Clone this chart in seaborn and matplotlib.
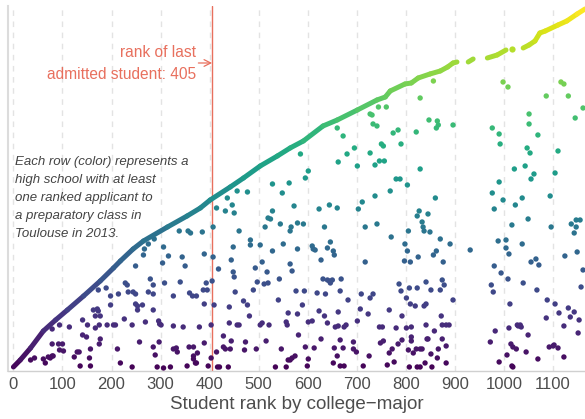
import numpy as np
import matplotlib
matplotlib.use("Agg")
import matplotlib.pyplot as plt
import seaborn as sns
from matplotlib.collections import LineCollection
from matplotlib.colors import Normalize

# upper edge: rank at which each new high school first shows up (row = school order)
frontier_rank = [
    [0, 14, 35, 61, 86, 110, 143, 177, 204, 218, 244, 265, 314, 354, 381, 401, 442,
     469, 503, 538, 564, 591, 631, 660, 701, 741, 758, 768, 798, 811, 825, 849, 870,
     885, 896, 904],
    [927, 937],
    [966, 986, 1004],
    [1016],
    [1039, 1051, 1063, 1073, 1084, 1110, 1128, 1149, 1165],
]
frontier_row = [
    [4, 11, 23, 40, 51, 61, 75, 90, 103, 110, 122, 130, 144, 155, 163, 171, 184,
     193, 205, 215, 223, 230, 245, 251, 261, 271, 274, 280, 287, 288, 293, 297, 300,
     304, 308, 309],
    [309, 312],
    [313, 316, 321],
    [322],
    [323, 326, 330, 338, 340, 346, 350, 357, 362],
]

# later applicants from schools already seen
applicant_rank = [
    660, 672, 727, 731, 744, 760, 733, 741,
    829, 856, 774, 784, 821, 847, 864, 866, 862, 896, 976, 990, 998, 1008, 1051, 1051,
    1069, 1086, 1116, 1122, 1131, 1145, 1161,
    585, 695, 680, 662, 701, 727, 750, 754, 746, 756, 737, 601, 595, 528, 562, 548, 737,
    456, 477, 436, 414, 432, 446, 450, 528, 572, 623, 644, 660, 703, 711, 519, 524, 544,
    513, 566, 564, 579, 591, 634, 717, 741, 385, 407, 460, 483, 483, 503, 550, 448, 528,
    579, 609, 611, 615, 646, 640, 652, 389,
    338, 356, 361, 287, 275, 267, 306, 265, 316, 344,
    790, 829, 780, 788, 803, 768, 860, 992, 1047, 1053, 1110, 1021, 1043, 1061, 1055, 990,
    1104, 976, 998, 1037, 1023, 1094, 980, 827, 823, 845, 833, 835, 837, 849, 805, 770,
    870, 890, 798, 803, 862, 856, 931, 988, 1004, 1004, 1010, 1037, 1016, 1049, 1096, 1137,
    1147, 1155, 1147, 1143, 1149,
    249, 304, 350, 279, 308, 340, 228, 232, 285, 189, 173, 214, 234, 244, 249, 275, 285,
    326, 359, 365, 198, 198, 171, 173, 249, 253, 263, 253, 285, 79, 94, 114, 141, 151,
    163, 167, 177, 167, 175, 191, 204, 208, 226, 242, 269, 296, 298, 301, 326, 346, 141,
    149, 177, 175, 79, 92, 100, 94, 102, 130, 134, 157, 212, 257, 297, 285, 326, 332, 358,
    367, 289, 334, 35, 43, 61, 71, 79, 81, 65, 75, 124, 155, 157, 136, 218, 242, 293, 306,
    320, 354, 367, 367, 371,
    407, 444, 418, 448, 450, 393, 405, 387, 395, 373, 389, 409, 440, 452, 469, 477, 481,
    489, 493, 497, 507, 511, 517, 519, 542, 540, 564, 568, 576, 593, 589, 560, 579, 619,
    636, 631, 640, 644, 646, 650, 668, 666, 682, 623, 634, 662, 709, 727, 733, 707, 723,
    627, 654, 717, 379, 403, 440, 456, 460, 503, 507, 521, 556, 558, 601, 609, 640, 656,
    662, 674, 678, 701, 746, 752, 389, 428, 444, 473, 515, 581, 627, 666, 693, 748, 754,
    375, 428, 432, 442, 414, 471, 495, 546, 595, 613, 654, 672, 693, 699, 660, 725, 403,
    373, 397, 416, 420, 438, 534, 556, 560, 564, 568, 574, 601, 599, 652, 666, 674, 713,
    762,
    825, 797, 809, 876, 980, 994, 1008, 1039, 1055, 1065, 1071, 1124, 1161, 974, 978, 1067,
    786, 790, 807, 823, 841, 851, 870, 874, 878, 896, 801, 809, 819, 837, 841, 766, 1012,
    1088, 1104, 1131, 1143, 1112, 1135, 1153, 1157, 1086, 792, 872, 780, 801, 811, 841,
    858, 874, 882, 888, 982, 1010, 1027, 1029, 1033, 1035, 1049, 1122, 1151, 784, 772,
    792, 811, 811, 843, 845, 874, 972, 1014, 1018, 1025, 1100, 1092, 1102, 1110, 805, 821,
    829, 833, 866, 882, 766, 815, 851, 864, 1006, 1045, 1122, 1069, 776, 807, 823, 829,
    839, 853, 882, 990, 1018, 1016,
]
applicant_row = [
    243, 235, 257, 256, 264, 264, 247, 245,
    273, 290, 238, 241, 239, 251, 250, 246, 243, 246, 243, 237, 289, 284, 257, 247,
    236, 275, 289, 287, 275, 253, 263,
    217, 223, 217, 209, 205, 218, 227, 225, 210, 210, 206, 200, 193, 187, 188, 178, 175,
    180, 179, 173, 163, 160, 166, 158, 160, 165, 162, 166, 163, 162, 169, 153, 152, 147,
    144, 144, 140, 148, 147, 144, 144, 147, 139, 144, 140, 131, 126, 126, 127, 124, 120,
    122, 125, 122, 121, 129, 123, 120, 117,
    140, 140, 138, 132, 127, 122, 124, 116, 115, 114,
    227, 202, 192, 192, 186, 180, 173, 227, 223, 218, 220, 202, 205, 197, 192, 189,
    198, 178, 171, 173, 166, 175, 162, 160, 155, 157, 149, 144, 140, 139, 140, 134,
    132, 127, 127, 120, 120, 116, 121, 130, 131, 123, 117, 127, 146, 152, 144, 147,
    151, 151, 144, 138, 119,
    105, 108, 105, 92, 88, 89, 88, 86, 86, 83, 81, 77, 79, 79, 77, 79, 77,
    75, 78, 75, 75, 66, 62, 60, 67, 65, 66, 61, 61, 42, 46, 44, 51, 46,
    61, 55, 55, 43, 46, 46, 46, 46, 52, 46, 49, 50, 47, 46, 45, 44, 36,
    34, 32, 27, 27, 27, 27, 21, 20, 19, 19, 22, 22, 29, 29, 24, 22, 23, 24,
    24, 16, 19, 11, 13, 12, 14, 15, 15, 8, 13, 14, 13, 5, 5, 8, 4, 4, 3,
    4, 5, 15, 12, 8,
    114, 111, 102, 99, 94, 88, 90, 81, 81, 75, 67, 66, 64, 79, 70, 66, 55,
    81, 103, 89, 109, 87, 99, 88, 92, 71, 107, 100, 80, 80, 66, 58, 57, 78,
    77, 92, 91, 90, 88, 91, 92, 80, 71, 60, 55, 59, 77, 73, 77, 62, 57,
    111, 116, 109, 44, 46, 48, 46, 46, 46, 48, 46, 49, 46, 49, 50, 48, 44,
    45, 44, 46, 50, 44, 44, 28, 35, 30, 29, 30, 36, 32, 31, 29, 28, 30,
    18, 24, 22, 22, 19, 21, 22, 22, 24, 23, 23, 23, 22, 19, 15, 15, 13,
    8, 5, 4, 4, 4, 4, 4, 11, 11, 13, 15, 12, 5, 8, 5, 5, 5,
    6,
    114, 110, 109, 109, 105, 98, 92, 88, 109, 112, 106, 115, 101, 86, 79, 81,
    87, 80, 83, 83, 89, 81, 81, 91, 86, 71, 73, 67, 65, 65, 67, 61, 67,
    71, 67, 63, 59, 58, 54, 51, 84, 53, 55, 55, 43, 43, 44, 46,
    40, 46, 46, 46, 40, 43, 46, 45, 46, 44, 36, 45, 38, 27, 22,
    31, 34, 30, 32, 32, 32, 29, 27, 24, 22, 25, 24, 26, 23, 21, 22,
    22, 22, 22, 25, 18, 18, 17, 13, 16, 19, 14, 12, 9, 4, 4, 4,
    8, 4, 8, 9, 4, 5,
]

last_admitted = 405
x_ticks = list(range(0, 1101, 100))
row_max = 362

accent = "#e8705e"

sns.set_theme(style="white")
plt.rcParams["font.family"] = ["Liberation Sans", "DejaVu Sans"]

fig = plt.figure(figsize=(5.85, 4.19), dpi=100)
ax = fig.add_axes([0.0137, 0.1146, 0.9863, 0.8711])

norm = Normalize(vmin=0, vmax=row_max)
cmap = plt.get_cmap("viridis")

# dashed vertical grid at the ticks
for t in x_ticks:
    ax.axvline(t, color="#e3e3e3", lw=1.0, ls=(0, (4, 4)), zorder=0)

# scattered later applicants
sns.scatterplot(x=applicant_rank, y=applicant_row, hue=applicant_row,
                palette="viridis", hue_norm=(0, row_max), s=15,
                linewidth=0, legend=False, ax=ax, zorder=3)

# upper edge, one thick colored band per run of new schools
for rr, yy in zip(frontier_rank, frontier_row):
    pts = np.column_stack([rr, yy]).astype(float)
    if len(pts) > 1:
        segs = np.stack([pts[:-1], pts[1:]], axis=1)
        mids = (pts[:-1, 1] + pts[1:, 1]) / 2
        lc = LineCollection(segs, colors=cmap(norm(mids)), linewidths=3.6,
                            capstyle="round", joinstyle="round", zorder=3)
        ax.add_collection(lc)
    else:
        ax.scatter(pts[:, 0], pts[:, 1], color=cmap(norm(pts[:, 1])), s=20,
                   linewidth=0, zorder=3)

ax.axvline(last_admitted, color=accent, lw=1.0, zorder=2)

ax.text(373, 318, "rank of last", color=accent, fontsize=11.2,
        ha="right", va="center")
ax.text(373, 296, "admitted student: 405", color=accent, fontsize=11.2,
        ha="right", va="center")
ax.annotate("", xy=(last_admitted, 308), xytext=(377, 308),
            arrowprops=dict(arrowstyle="->", color=accent, lw=0.9,
                            shrinkA=0, shrinkB=0))

ax.text(4, 173,
        "Each row (color) represents a\nhigh school with at least\n"
        "one ranked applicant to\na preparatory class in\nToulouse in 2013.",
        fontsize=9.5, style="italic", color="#444444", ha="left", va="center",
        linespacing=1.68)

ax.set_xlim(-11, 1165)
ax.set_ylim(0, 365)
ax.set_xticks(x_ticks)
ax.set_yticks([])
ax.tick_params(axis="x", length=0, pad=4, labelsize=12, labelcolor="#4d4d4d")
ax.set_xlabel("Student rank by college\u2212major", fontsize=13.5, color="#4d4d4d",
              labelpad=3)
ax.set_ylabel("")

for side in ["top", "right"]:
    ax.spines[side].set_visible(False)
ax.spines["left"].set_color("#dcdcdc")
ax.spines["left"].set_linewidth(1.5)
ax.spines["bottom"].set_color("#d0d0d0")
ax.spines["bottom"].set_linewidth(1.0)

fig.savefig("out.png", dpi=100)
